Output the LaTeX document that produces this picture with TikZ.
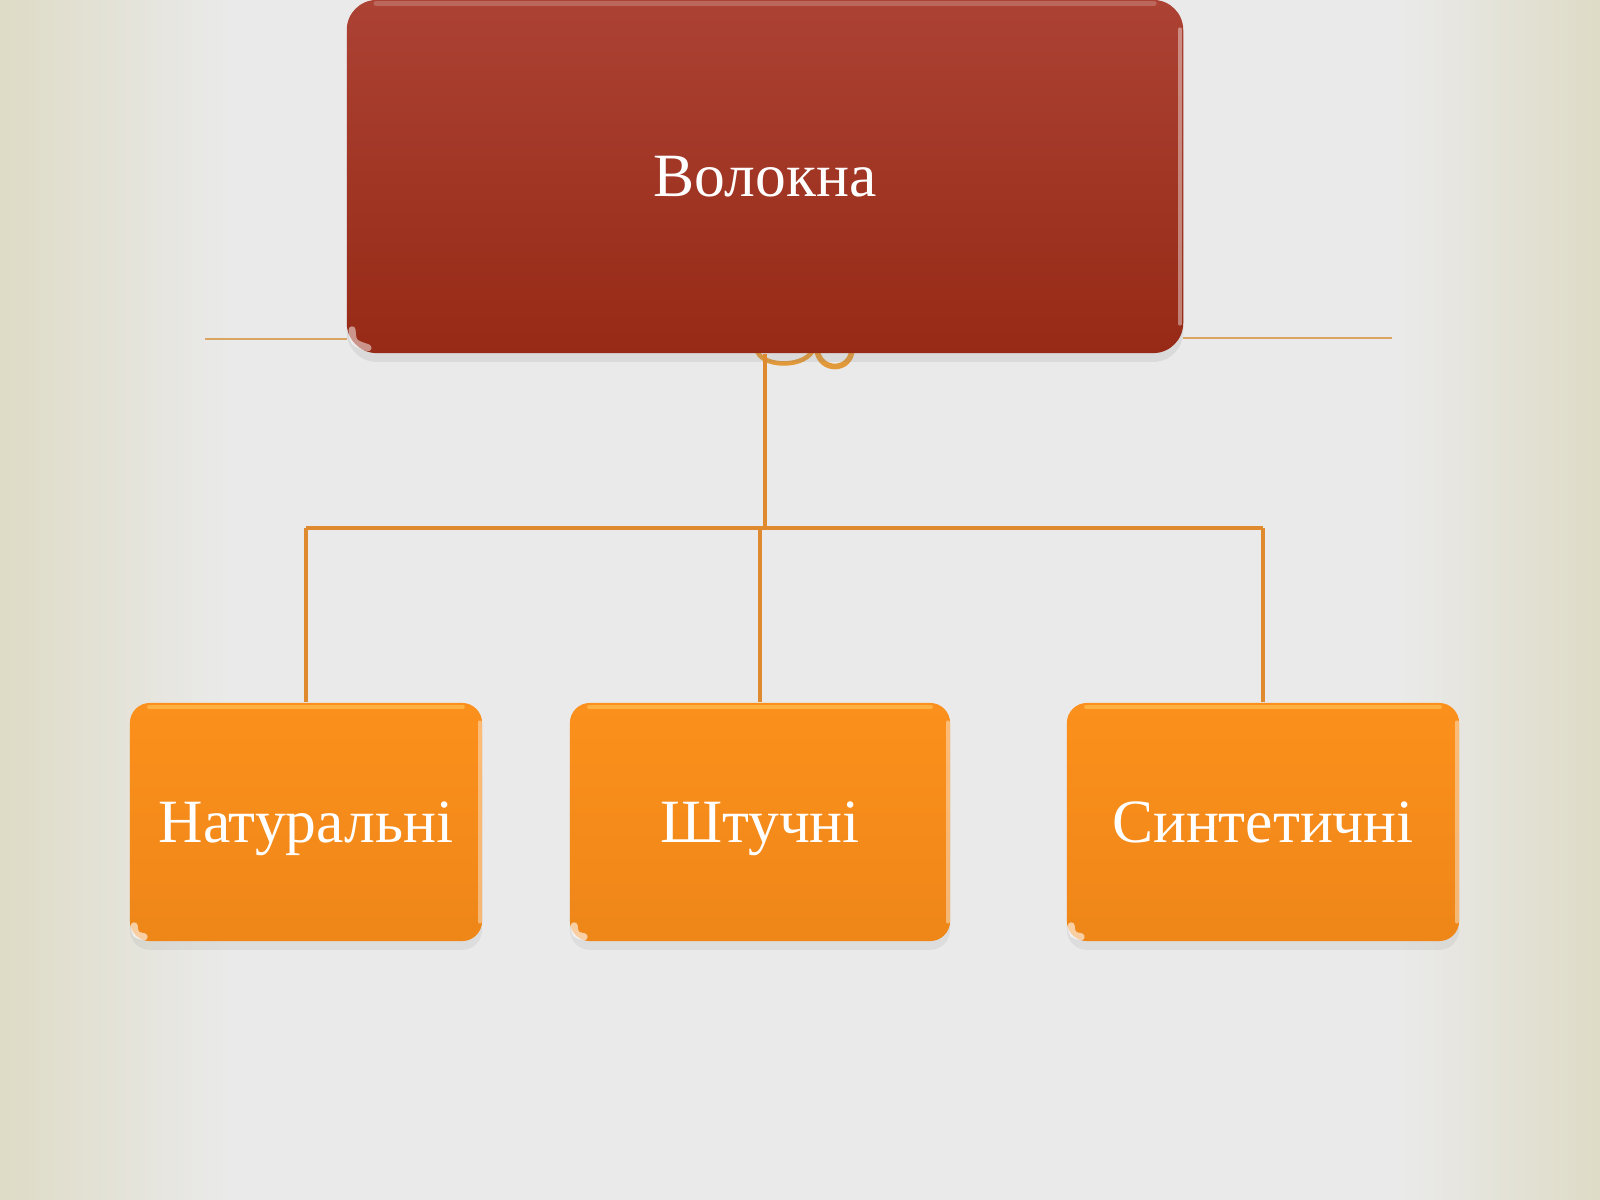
\documentclass[tikz,border=0pt]{standalone}
\usepackage{fontspec}
\setmainfont{Liberation Serif}
\usetikzlibrary{shadows,calc}
\definecolor{bgc}{HTML}{EAEAEA}
\definecolor{bgedge}{HTML}{DEDBC6}
\definecolor{redtop}{HTML}{AC4234}
\definecolor{redbot}{HTML}{962A16}
\definecolor{orgtop}{HTML}{FC901C}
\definecolor{orgbot}{HTML}{EE8618}
\definecolor{conn}{HTML}{E08A30}
\definecolor{deco}{HTML}{D9A560}
\definecolor{swirl}{HTML}{E2993A}
\definecolor{orglight}{HTML}{FFB84A}
\begin{document}
\begin{tikzpicture}[x=0.01cm,y=-0.01cm,
  mainbox/.style={rectangle, rounded corners=0.3cm, top color=redtop, bottom color=redbot,
    minimum width=8.36cm, minimum height=3.53cm, text=white,
    font=\fontsize{17.5}{20}\selectfont, text height=0.40cm, text depth=0pt,
    drop shadow={shadow xshift=0pt, shadow yshift=-2.5pt, opacity=0.15}},
  subbox/.style={rectangle, rounded corners=0.2cm, top color=orgtop, bottom color=orgbot,
    minimum height=2.38cm, text=white,
    font=\fontsize{17.5}{20}\selectfont, text height=0.40cm, text depth=0pt,
    drop shadow={shadow xshift=0pt, shadow yshift=-2.5pt, opacity=0.12}},
  link/.style={draw=conn, line width=1pt},
  decoline/.style={draw=deco, line width=0.7pt},
  gloss/.style={draw=white, line cap=round}]
\useasboundingbox (0,0) rectangle (1600,1200);
% background
\fill[bgc] (0,0) rectangle (1600,1200);
\shade[left color=bgedge, right color=bgc] (0,0) rectangle (230,1200);
\shade[left color=bgc, right color=bgedge] (1400,0) rectangle (1600,1200);
% decorative lines and swirl (behind main box)
\coordinate (dl) at (205,339);
\coordinate (dr) at (1392,338);
\coordinate (bus) at (0,528);
\coordinate (Tw) at (347,176.5);
\coordinate (Te) at (1183,176.5);
\draw[decoline] (dl) -- (dl -| Tw);
\draw[decoline] (dr) -- (dr -| Te);
\draw[swirl, line width=1.3pt] (757,350) .. controls (760,366) and (800,369) .. (812,352);
\draw[swirl, line width=1.6pt] (817,350) .. controls (820,372) and (850,372) .. (852,350);
% main box
\node[mainbox] (T) at (765,176.5) {Волокна};
\draw[gloss, opacity=0.2, line width=1.5pt] ($(T.north west)+(30,4)$) -- ($(T.north east)+(-30,4)$);
\draw[gloss, opacity=0.4, line width=1pt] ($(T.north east)+(-4,30)$) -- ($(T.south east)+(-4,-30)$);
\draw[gloss, opacity=0.5, line width=2pt] ($(T.south west)+(6,-24)$) .. controls ($(T.south west)+(7,-11)$) .. ($(T.south west)+(22,-6)$);
% sub boxes
\node[subbox, minimum width=3.52cm] (A) at (306,822) {Натуральні};
\node[subbox, minimum width=3.80cm] (B) at (760,822) {Штучні};
\node[subbox, minimum width=3.92cm] (C) at (1263,822) {Синтетичні};
\foreach \n in {A,B,C}{
  \draw[draw=orglight, opacity=0.8, line width=1.2pt, line cap=round] ($(\n.north west)+(20,5)$) -- ($(\n.north east)+(-20,5)$);
  \draw[gloss, opacity=0.4, line width=1pt] ($(\n.north east)+(-3,20)$) -- ($(\n.south east)+(-3,-20)$);
  \draw[gloss, opacity=0.6, line width=2pt] ($(\n.south west)+(5,-16)$) .. controls ($(\n.south west)+(6,-7)$) .. ($(\n.south west)+(15,-5)$);
}
% connectors
\draw[link] (T.south) -- (T.south |- bus);
\draw[link] (A.north |- bus) -- (C.north |- bus);
\draw[link] (A.north |- bus) -- (A.north);
\draw[link] (B.north |- bus) -- (B.north);
\draw[link] (C.north |- bus) -- (C.north);
\end{tikzpicture}
\end{document}
